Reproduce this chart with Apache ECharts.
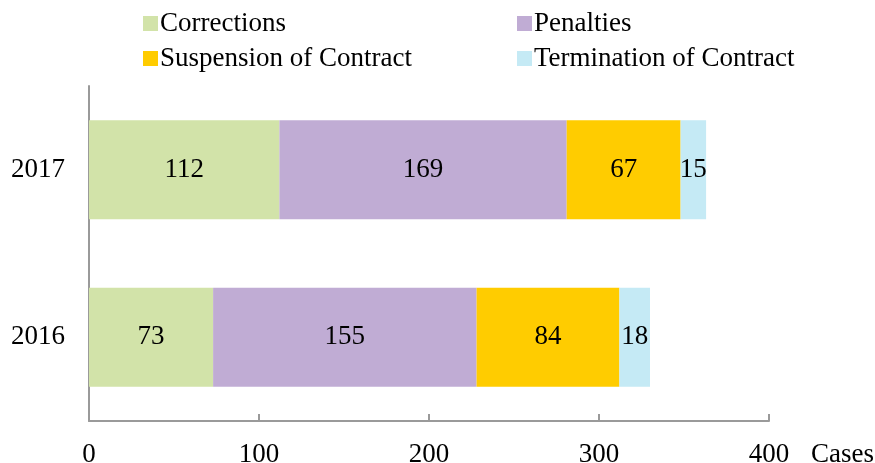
<!DOCTYPE html>
<html>
<head>
<meta charset="utf-8">
<script src="https://cdn.jsdelivr.net/npm/echarts@6/dist/echarts.min.js"></script>
<style>
  html, body { margin: 0; padding: 0; background: #fff; }
  #chart { width: 875px; height: 463px; }
</style>
</head>
<body>
<div id="chart"></div>
<script>
// Years, bottom to top
const years = ['2016', '2017'];

// Cases per measure type
const corrections = [73, 112];
const penalties = [155, 169];
const suspension = [84, 67];
const termination = [18, 15];

const seriesNames = ['Corrections', 'Penalties', 'Suspension of Contract', 'Termination of Contract'];
const seriesColors = ['#d2e3a9', '#c0acd4', '#ffcc00', '#c5eaf5'];
const seriesData = [corrections, penalties, suspension, termination];

const FONT = '"Liberation Serif", "Times New Roman", serif';
const FS = 27;

const chart = echarts.init(document.getElementById('chart'));

const legendCommon = {
  orient: 'vertical',
  top: 5,
  itemWidth: 15,
  itemHeight: 15,
  itemGap: 8,
  icon: 'rect',
  textStyle: { fontFamily: FONT, fontSize: FS, color: '#000', padding: [0, 0, 0, -3] }
};

chart.setOption({
  animation: false,
  textStyle: { fontFamily: FONT },
  legend: [
    Object.assign({ left: 138, data: [seriesNames[0], seriesNames[2]] }, legendCommon),
    Object.assign({ left: 512, data: [seriesNames[1], seriesNames[3]] }, legendCommon)
  ],
  grid: { left: 89, right: 106, top: 86, bottom: 42, containLabel: false, outerBoundsMode: 'none' },
  xAxis: {
    type: 'value',
    min: 0,
    max: 400,
    interval: 100,
    name: 'Cases',
    nameLocation: 'end',
    nameGap: 42,
    nameTextStyle: { fontFamily: FONT, fontSize: FS, color: '#000', align: 'left', verticalAlign: 'top', padding: [20, 0, 0, 0] },
    axisLine: { show: true, lineStyle: { color: '#9a9a9a', width: 2 } },
    axisTick: { show: true, inside: true, length: 7, lineStyle: { color: '#9a9a9a', width: 2 } },
    axisLabel: { fontFamily: FONT, fontSize: FS, color: '#000', margin: 20 },
    splitLine: { show: false }
  },
  yAxis: {
    type: 'category',
    data: years,
    axisLine: { show: true, lineStyle: { color: '#9a9a9a', width: 2 } },
    axisTick: { show: false },
    axisLabel: { fontFamily: FONT, fontSize: FS, color: '#000', margin: 24 }
  },
  series: seriesNames.map((name, i) => ({
    name: name,
    type: 'bar',
    stack: 'total',
    barWidth: 99,
    itemStyle: { color: seriesColors[i] },
    label: {
      show: true,
      position: 'inside',
      fontFamily: FONT,
      fontSize: FS,
      color: '#000'
    },
    data: seriesData[i]
  }))
});
</script>
</body>
</html>
